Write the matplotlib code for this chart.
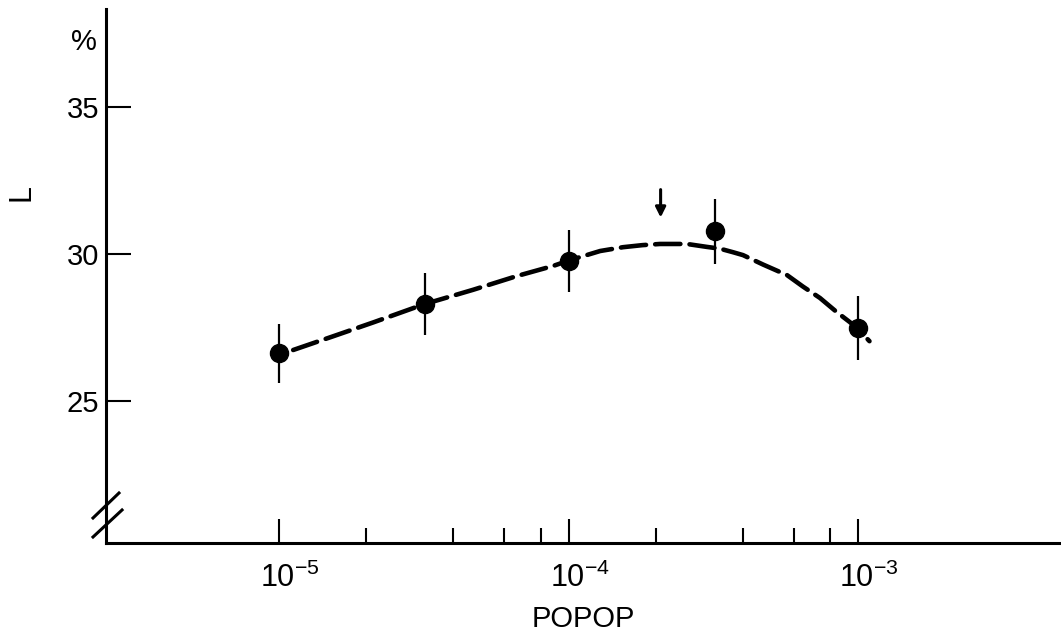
import numpy as np
import matplotlib
matplotlib.use("Agg")
import matplotlib.pyplot as plt
import matplotlib.transforms as mtransforms
from matplotlib.ticker import FixedLocator, NullFormatter

plt.rcParams['font.family'] = ['Liberation Sans', 'DejaVu Sans']
plt.rcParams['mathtext.fontset'] = 'custom'
plt.rcParams['mathtext.rm'] = 'Liberation Sans'
plt.rcParams['mathtext.it'] = 'Liberation Sans:italic'
plt.rcParams['mathtext.bf'] = 'Liberation Sans:bold'

# ---- data ----
popop = [1.0e-5, 3.2e-5, 1.0e-4, 3.2e-4, 1.0e-3]
L_vals = [26.63, 28.30, 29.76, 30.78, 27.49]
L_err = [1.0, 1.05, 1.05, 1.1, 1.1]

# dashed guide curve (log10 of POPOP, L)
curve_logx = [-4.952, -4.813, -4.675, -4.499, -4.330, -4.178, -4.054,
              -3.995, -3.891, -3.812, -3.745, -3.684, -3.591, -3.522,
              -3.477, -3.432, -3.397, -3.328, -3.245, -3.190, -3.131,
              -3.073, -3.028, -3.003, -2.960]
curve_L = [26.74, 27.21, 27.68, 28.30, 28.79, 29.26, 29.60,
           29.80, 30.11, 30.24, 30.31, 30.35, 30.35, 30.25,
           30.19, 30.07, 29.97, 29.65, 29.29, 28.90, 28.51,
           28.03, 27.69, 27.49, 27.04]

arrow_x = 2.08e-4
arrow_from, arrow_to = 32.2, 31.25

y_ticks = [25, 30, 35]
x_major = [1e-5, 1e-4, 1e-3]
x_major_labels = [r'$10^{-5}$', r'$10^{-4}$', r'$10^{-3}$']
x_minor = [m * d for d in (1e-5, 1e-4) for m in (2, 4, 6, 8)]

fig = plt.figure(figsize=(10.61, 6.41), dpi=100)
ax = fig.add_axes([0.0999, 0.1529, 0.9001, 0.8331])

ax.set_xscale('log')
ax.set_xlim(10 ** -5.599, 10 ** -2.298)
ax.set_ylim(20.17, 38.35)

# dashed curve
ax.plot(10 ** np.array(curve_logx), curve_L, color='black', lw=3.3,
        dashes=(5.5, 2.0), solid_capstyle='butt', dash_capstyle='round',
        zorder=2)

# points with error bars
ax.errorbar(popop, L_vals, yerr=L_err, fmt='o', color='black', ms=13,
            elinewidth=1.6, capsize=0, zorder=3)

# arrow
ax.annotate('', xy=(arrow_x, arrow_to), xytext=(arrow_x, arrow_from),
            arrowprops=dict(arrowstyle='-|>,head_length=0.6,head_width=0.3',
                            color='black', lw=2.2, shrinkA=0, shrinkB=0))

# spines
for s in ('top', 'right'):
    ax.spines[s].set_visible(False)
for s in ('left', 'bottom'):
    ax.spines[s].set_linewidth(2.2)

# ticks
ax.set_yticks(y_ticks)
ax.set_yticklabels([str(t) for t in y_ticks])
ax.xaxis.set_major_locator(FixedLocator(x_major))
ax.set_xticklabels(x_major_labels)
ax.xaxis.set_minor_locator(FixedLocator(x_minor))
ax.xaxis.set_minor_formatter(NullFormatter())
ax.tick_params(axis='y', direction='in', length=18, width=1.5,
               labelsize=21, pad=5)
ax.tick_params(axis='x', which='major', direction='in', length=17,
               width=1.5, labelsize=22, pad=14)
ax.tick_params(axis='x', which='minor', direction='in', length=11,
               width=1.5)

# shift x tick labels so that "10" sits on the tick
offset = mtransforms.ScaledTranslation(11 / 100, 0, fig.dpi_scale_trans)
for lab in ax.get_xticklabels():
    lab.set_transform(lab.get_transform() + offset)

# axis labels
ax.set_xlabel('POPOP', fontsize=21, labelpad=8)
fig.text(0.0207, 0.699, 'L', rotation=90, fontsize=22,
         ha='center', va='center')
fig.text(0.0792, 0.934, '%', fontsize=21, ha='center', va='center')

# axis break marks
for (x0, y0, x1, y1) in [(-0.0136, 0.0468, 0.0136, 0.0936),
                         (-0.0136, 0.0112, 0.0168, 0.0618)]:
    ax.plot([x0, x1], [y0, y1], transform=ax.transAxes, color='black',
            lw=2.2, clip_on=False)

fig.savefig('out.png', dpi=100)
